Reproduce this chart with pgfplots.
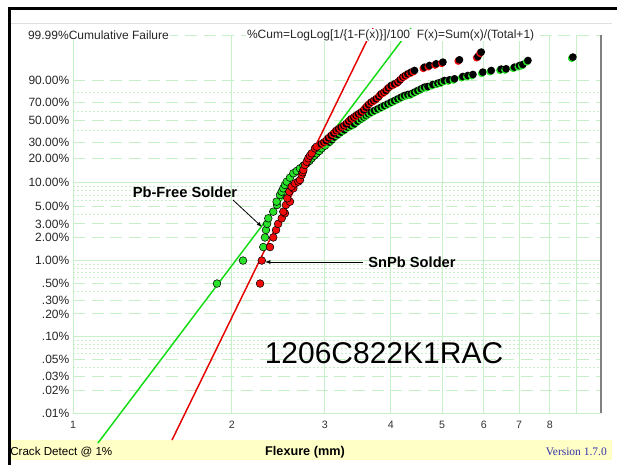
\documentclass[border=0pt]{standalone}
\usepackage{pgfplots}
\pgfplotsset{compat=1.18}
\usetikzlibrary{arrows.meta}
\usepackage{fontspec}
\setmainfont{Liberation Sans}
\newfontfamily\verfont{Liberation Serif}
\definecolor{gridgreen}{RGB}{200,240,200}
\definecolor{ptgreen}{RGB}{40,225,40}
\definecolor{ptred}{RGB}{240,10,10}
\definecolor{fitgreen}{RGB}{20,220,20}
\definecolor{fitred}{RGB}{230,0,0}
\definecolor{stripyellow}{RGB}{255,255,198}
\definecolor{verblue}{RGB}{50,50,170}
\pgfdeclareplotmark{gdual}{%
  \pgfpathcircle{\pgfpointorigin}{\pgfplotmarksize}\pgfsetfillcolor{ptgreen}\pgfusepathqfill
  \pgfpathcircle{\pgfpoint{0.9pt}{0.9pt}}{\pgfplotmarksize}\pgfsetfillcolor{black}\pgfusepathqfill}
\pgfdeclareplotmark{rdual}{%
  \pgfpathcircle{\pgfpointorigin}{\pgfplotmarksize}\pgfsetfillcolor{ptred}\pgfusepathqfill
  \pgfpathcircle{\pgfpoint{0.9pt}{0.9pt}}{\pgfplotmarksize}\pgfsetfillcolor{black}\pgfusepathqfill}

\pgfplotstableread{
x F
1.874 0.5
2.099 1.0
2.293 1.5
2.310 2.0
2.320 2.5
2.331 3.0
2.344 3.54
2.395 4.31
2.435 5.25
2.430 5.79
2.466 7.03
2.485 7.75
2.502 8.54
2.520 9.40
2.540 10.35
2.576 11.58
2.614 13.12
2.652 13.99
2.691 15.08
2.731 16.21
2.771 17.33
2.803 18.45
2.832 19.84
2.864 21.30
2.894 22.67
2.927 24.13
2.958 25.85
3.001 27.67
}\greenlow
\pgfplotstableread{
x F
3.045 29.40
3.077 31.16
3.112 33.32
3.159 35.48
3.204 37.59
3.251 39.65
3.299 42.17
3.346 43.74
3.396 45.44
3.446 48.16
3.496 50.57
3.537 52.37
3.573 54.14
3.610 55.93
3.652 57.79
3.705 59.58
3.760 61.44
3.815 63.32
3.870 65.12
3.928 67.01
3.985 68.86
4.044 70.63
4.103 72.48
4.162 74.28
4.224 75.97
4.285 76.99
4.348 77.70
4.411 79.38
4.475 80.95
4.542 82.53
4.608 84.07
4.676 84.61
4.779 86.29
4.884 87.41
4.956 88.21
5.026 89.39
5.138 89.88
5.252 90.58
5.447 92.05
5.569 92.64
5.692 93.21
5.943 94.45
6.165 95.20
6.437 95.79
6.579 95.91
6.822 96.53
6.972 97.07
7.076 97.37
7.234 98.35
8.801 98.95
}\greenhigh
\pgfplotstableread{
x F
2.261 0.5
2.278 1.0
2.361 1.5
2.395 2.0
2.424 2.5
2.446 3.0
2.485 3.54
2.520 4.11
2.502 4.31
2.531 5.25
2.576 5.79
2.546 6.39
2.568 7.75
2.614 8.54
2.595 8.96
2.633 9.86
2.672 10.35
2.691 10.85
2.711 12.51
2.723 13.49
2.731 14.39
2.750 16.53
2.771 18.10
2.790 19.84
2.811 21.30
2.832 22.67
2.873 25.85
2.894 26.98
}\redlow
\pgfplotstableread{
x F
2.936 28.16
2.971 29.40
3.001 30.62
3.031 32.73
3.067 34.65
3.104 36.72
3.135 39.05
3.167 40.58
3.204 42.17
3.242 43.74
3.275 45.44
3.313 48.16
3.346 50.57
3.386 52.37
3.420 54.14
3.455 55.93
3.496 57.79
3.537 60.34
3.573 63.32
3.610 66.23
3.652 68.86
3.694 70.63
3.733 72.48
3.777 74.90
3.815 77.70
3.861 79.38
3.899 80.95
3.938 83.46
3.985 85.46
4.044 86.87
4.103 88.21
4.144 89.88
4.194 91.68
4.237 92.64
4.285 93.59
4.348 94.45
4.411 95.20
4.608 96.53
4.709 97.07
4.849 97.57
4.993 98.00
5.366 98.49
5.816 99.03
5.901 99.50
}\redhigh

\begin{document}
\begin{tikzpicture}[x=0.75pt,y=0.75pt]
\fill[white] (0,0) rectangle (617,465);
\path[use as bounding box] (0,0) rectangle (617,465);
% yellow strip and frame
\fill[stripyellow] (10,5) rectangle (612,25);
\draw[gray!25, line width=0.75pt] (10,441) -- (612,441);
\draw[black, line width=2.25pt] (8,456) -- (617,456);
\draw[black, line width=2.25pt] (9,457) -- (9,0);
\begin{axis}[
  at={(54.75pt,39pt)}, anchor=south west,
  scale only axis, width=396pt, height=283.5pt,
  xmode=log, log basis x=10,
  xmin=1, xmax=10,
  ymin=0.01, ymax=99.99,
  y coord trafo/.code={\begingroup\pgfkeys{/pgf/fpu=true,/pgf/fpu/output format=sci}\pgfmathparse{ifthenelse(#1<30, ln(#1/100 + (#1/100)^2/2 + (#1/100)^3/3 + (#1/100)^4/4 + (#1/100)^5/5), ln(-ln(1-#1/100)))}\pgfmathsmuggle\pgfmathresult\endgroup},
  axis line style={draw=none},
  tick style={draw=none},
  xtick={1,2,3,4,5,6,7,8},
  xticklabels={1,2,3,4,5,6,7,8},
  minor xtick={},
  xticklabel style={font=\fontsize{8}{9}\selectfont, text=black!80, anchor=north, inner sep=0pt, yshift=-6pt},
  ytick={90,70,50,30,20,10,5,3,2,1,0.5,0.3,0.2,0.1,0.05,0.03,0.02,0.01},
  yticklabels={90.00\%,70.00\%,50.00\%,30.00\%,20.00\%,10.00\%,5.00\%,3.00\%,2.00\%,1.00\%,.50\%,.30\%,.20\%,.10\%,.05\%,.03\%,.02\%,.01\%},
  yticklabel style={font=\fontsize{9}{10}\selectfont, text=black!85, anchor=east, inner sep=0pt, xshift=-2.6pt},
  clip=false,
  mark size=2.9pt,
]
% grid
\pgfplotsinvokeforeach{2,3,4,5,6,7,8,9}{\draw[gridgreen, line width=0.7pt] (axis cs:#1,0.01) -- (axis cs:#1,99.99);}
\pgfplotsinvokeforeach{90,70,50,30,20,5,3,2,0.5,0.3,0.2,0.05,0.03,0.02,99.99}{\draw[gridgreen, line width=0.7pt, dash pattern=on 9pt off 5pt] (axis cs:1,#1) -- (axis cs:10,#1);}
\pgfplotsinvokeforeach{10,1,0.1}{\draw[gridgreen, line width=0.7pt] (axis cs:1,#1) -- (axis cs:10,#1);}
\pgfplotsinvokeforeach{80,60,40,9,8,7,6,4,0.9,0.8,0.7,0.6,0.4,0.09,0.08,0.07,0.06,0.04}{\draw[gridgreen, line width=0.55pt, dash pattern=on 1.5pt off 1.5pt] (axis cs:1,#1) -- (axis cs:10,#1);}
\draw[gridgreen, line width=0.75pt] (axis cs:1,0.01) -- (axis cs:1,99.99);
\draw[gridgreen, line width=0.75pt] (axis cs:1,0.01) -- (axis cs:10,0.01);
\draw[gray, line width=1.1pt] (axis cs:10,0.01) -- (axis cs:10,99.99);
% fit lines
\addplot[fitgreen, line width=1.1pt, no marks] coordinates {(1.115,0.00403) (4.367,99.99886)};
\addplot[fitred, line width=1.1pt, no marks] coordinates {(1.540,0.00441) (3.700,99.99886)};
% data
\addplot[only marks, mark=*, mark options={fill=ptgreen, draw=none}] table[x=x,y=F] {\greenlow};
\addplot[only marks, mark=*, mark options={fill=ptred, draw=none}] table[x=x,y=F] {\redlow};
\addplot[only marks, mark=gdual] table[x=x,y=F] {\greenhigh};
\addplot[only marks, mark=rdual] table[x=x,y=F] {\redhigh};
\end{axis}
% title texts
\node[anchor=west, fill=white, inner sep=0.6pt, font=\fontsize{9}{10}\selectfont, text=black!85] at (27,430) {99.99\%Cumulative Failure};
\node[anchor=west, fill=white, inner sep=0.6pt, font=\fontsize{9}{10}\selectfont, text=black!85] at (246,430) {\%Cum=LogLog[1/\{1-F(x)\}]/100\ \ F(x)=Sum(x)/(Total+1)};
% annotations
\node[font=\bfseries\fontsize{11}{12}\selectfont] at (185,273) {Pb-Free Solder};
\draw[black, line width=0.6pt, -{Latex[length=4pt,width=3pt]}] (233,265) -- (262,238);
\node[font=\bfseries\fontsize{11}{12}\selectfont] at (412,203) {SnPb Solder};
\draw[black, line width=0.6pt, -{Latex[length=4pt,width=3pt]}] (363,203) -- (265,203);
\node[font=\fontsize{22.5}{24}\selectfont] at (384,112) {1206C822K1RAC};
% bottom strip texts
\node[anchor=west, inner sep=0pt, font=\fontsize{8.7}{10}\selectfont] at (10,13) {Crack Detect @ 1\%};
\node[font=\bfseries\fontsize{9.5}{11}\selectfont] at (305,13) {Flexure (mm)};
\node[anchor=east, inner sep=0pt, font=\verfont\fontsize{8.6}{10}\selectfont, text=verblue] at (607,13) {Version 1.7.0};
\end{tikzpicture}
\end{document}
